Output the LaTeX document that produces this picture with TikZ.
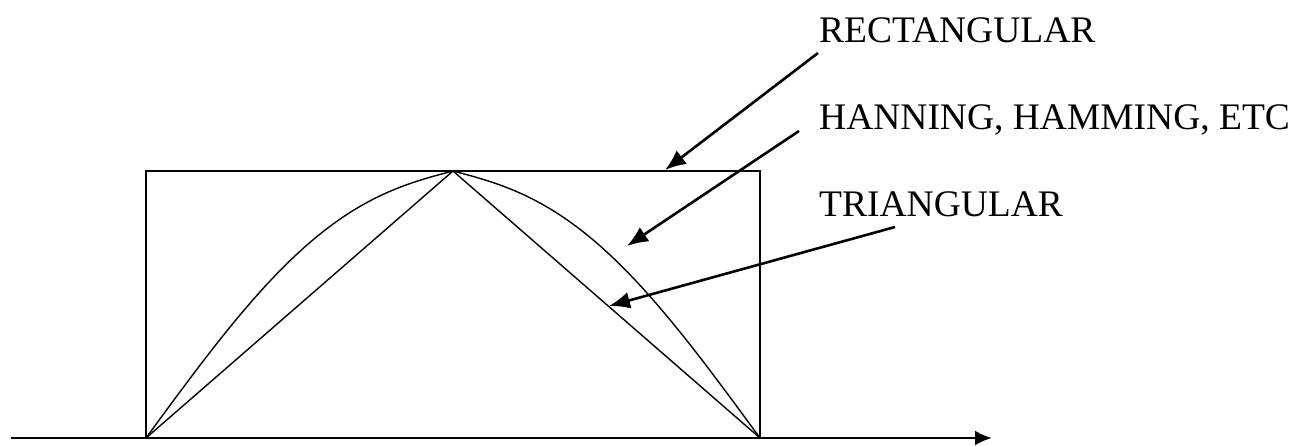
\documentclass[tikz,border=0pt]{standalone}
\usepackage{fontspec}
\setmainfont{Liberation Serif}
\usetikzlibrary{arrows.meta}
\begin{document}
\begin{tikzpicture}[x=1pt,y=-1pt,
  lbl/.style={anchor=base west,inner sep=0pt,font=\fontsize{37.5}{40}\selectfont},
  win/.style={line width=1.4pt},
  pointer/.style={line width=2.6pt,-{Latex[length=21pt,width=17pt]}},
  axis/.style={line width=2.8pt,-{Latex[length=17pt,width=15pt]}}]
\useasboundingbox (0,0) rectangle (1290,445);
% labels
\node[lbl] (rect) at (819,42) {RECTANGULAR};
\node[lbl] (hann) at (819,129) {HANNING, HAMMING, ETC};
\node[lbl] (tri) at (819,216) {TRIANGULAR};
% key points
\coordinate (L) at (146,438);
\coordinate (R) at (760,438);
\coordinate (P) at (453,171);
\coordinate (TL) at (146,171);
\coordinate (TR) at (760,171);
\coordinate (ax0) at (11,438);
\coordinate (ax1) at (992,438);
% rectangular window
\draw[win,line width=1.6pt] (L) -- (TL) -- (TR) -- (R);
% triangular window
\draw[win] (L) -- (P) -- (R);
% hanning-like window
\draw[win] plot[domain=0:1,samples=100,smooth] ({453-307*\x},{438-267*(cos(90*\x)-0.3*\x*(1-\x)^4)});
\draw[win] plot[domain=0:1,samples=100,smooth] ({453+307*\x},{438-267*(cos(90*\x)-0.3*\x*(1-\x)^4)});
% axis
\draw[axis] (ax0) -- (ax1);
% pointers
\coordinate (rs) at (818,53);
\coordinate (re) at (665,170);
\coordinate (hs) at (799,131);
\coordinate (he) at (627,246);
\coordinate (ts) at (895,227);
\coordinate (te) at (609,306);
\draw[pointer] (rs) -- (re);
\draw[pointer] (hs) -- (he);
\draw[pointer] (ts) -- (te);
\end{tikzpicture}
\end{document}
